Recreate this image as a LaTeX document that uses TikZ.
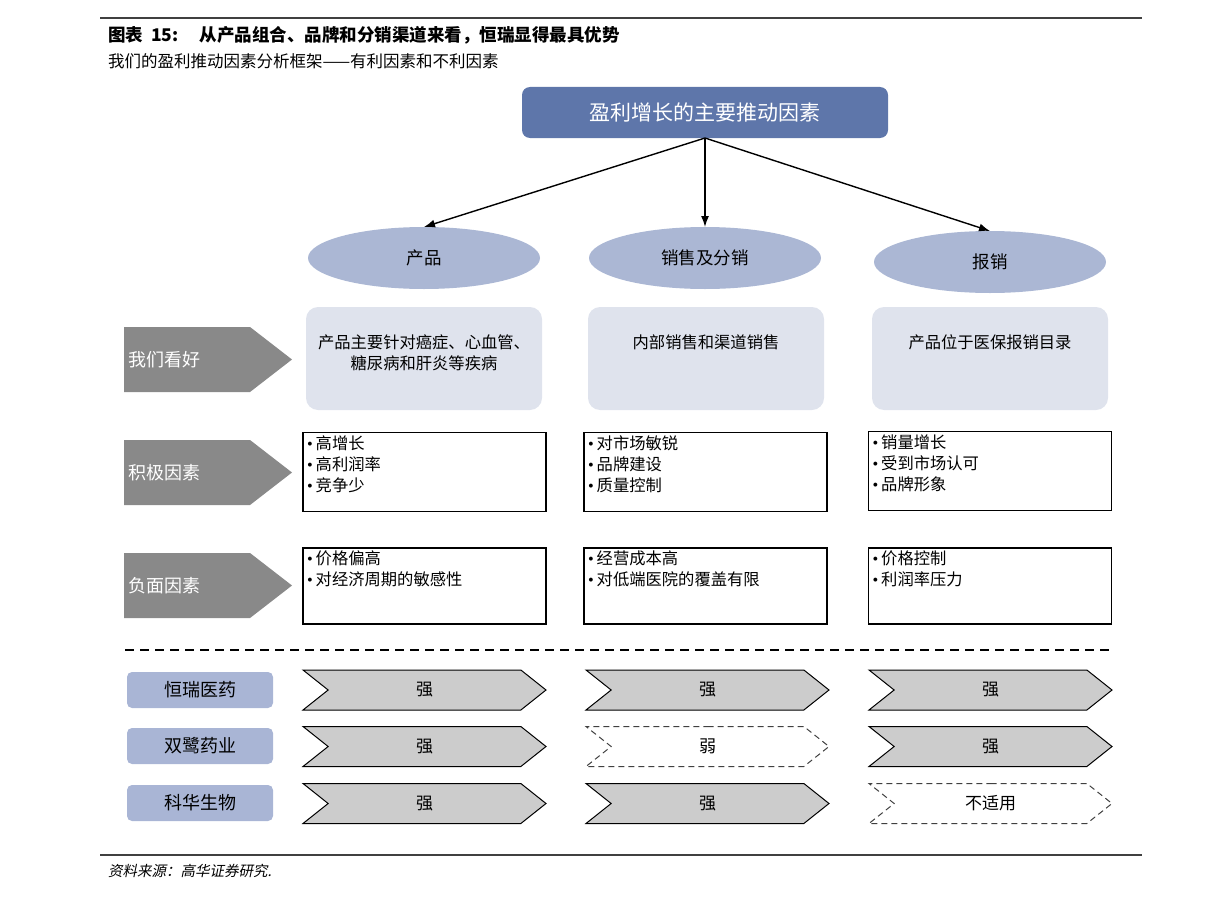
\documentclass[tikz,border=0pt]{standalone}
\usepackage{fontspec}
\setmainfont{Noto Sans CJK SC}
\newfontfamily\slantcjk{Noto Sans CJK SC}[FakeSlant=0.2]
\newfontfamily\dotfont{Liberation Serif}
\usetikzlibrary{arrows.meta,shapes.geometric,shapes.symbols}
\definecolor{rootblue}{RGB}{94,118,170}
\definecolor{ovalblue}{RGB}{171,183,212}
\definecolor{paleblue}{RGB}{223,227,237}
\definecolor{firmblue}{RGB}{169,181,213}
\definecolor{taggray}{RGB}{137,137,137}
\definecolor{chevgray}{RGB}{204,204,204}
\newcommand\fsz[2]{\fontsize{#1}{#2}\selectfont}
\newcommand\bul{{\dotfont •}\hspace{3pt}}

\begin{document}
\begin{tikzpicture}[x=1pt,y=-1pt,
    every node/.style={inner sep=0pt,outer sep=0pt},
    oval/.style={ellipse,fill=ovalblue,minimum width=232,minimum height=62,font=\fsz{17.5}{21}},
    palebox/.style={rounded corners=12,fill=paleblue,minimum width=236,minimum height=103},
    listbox/.style={draw,line width=1.6,minimum width=243,minimum height=79},
    listtext/.style={anchor=north west,align=left,font=\fsz{16.3}{21}},
    tagarrow/.style={signal,signal to=east,signal pointer angle=75.5,fill=taggray,minimum width=168,minimum height=65,anchor=west},
    tagtext/.style={anchor=west,text=white,font=\fsz{18}{21}},
    firm/.style={rounded corners=5,fill=firmblue,minimum width=146,minimum height=36,font=\fsz{18}{21}},
    strong/.style={signal,signal to=east,signal from=west,signal pointer angle=77,draw,line width=1,fill=chevgray,minimum width=243,minimum height=40,font=\fsz{17}{21}},
    weak/.style={strong,fill=none,draw=black!75,dashed,dash pattern=on 6 off 4},
    link/.style={-{Latex[length=11,width=8]},line width=1.4}]
    \useasboundingbox (0,0) rectangle (1224,899);

    \coordinate (rtl) at (100,18);
    \coordinate (rtr) at (1142,18);
    \coordinate (rbl) at (100,855);
    \coordinate (rbr) at (1142,855);
    \draw[line width=1.2,black!75] (rtl) -- (rtr);
    \draw[line width=1.2,black!75] (rbl) -- (rbr);

    \node[anchor=base west,font=\fsz{17.5}{21}\bfseries] (title) at (108,42) {图表\ \ 15:\quad\ 从产品组合、品牌和分销渠道来看，恒瑞显得最具优势};
    \node[anchor=base west,font=\fsz{16.5}{21}] (subtitle) at (108,67) {我们的盈利推动因素分析框架——有利因素和不利因素};
    \node[anchor=base west,font=\fsz{14.5}{17}\slantcjk] (source) at (108,876) {资料来源：高华证券研究.};

    \node[fill=rootblue,rounded corners=8,minimum width=366,minimum height=51,text=white,font=\fsz{21}{25}] (root) at (705,112.5) {盈利增长的主要推动因素};

    \node[oval] (prod) at (424,258) {产品};
    \node[oval] (sale) at (705,258) {销售及分销};
    \node[oval] (reimb) at (990,262) {报销};

    \draw[link] (root.south) -- (prod.north);
    \draw[link] (root.south) -- (sale.north);
    \draw[link] (root.south) -- (reimb.north);

    \node[tagarrow] (like) at (124,359.5) {};
    \node[tagtext] (liket) at ([xshift=4]like.west) {我们看好};
    \node[tagarrow] (plus) at (124,472.5) {};
    \node[tagtext] (plust) at ([xshift=4]plus.west) {积极因素};
    \node[tagarrow] (minus) at (124,585.5) {};
    \node[tagtext] (minust) at ([xshift=4]minus.west) {负面因素};

    \node[palebox] (good1) at (424,358.5) {};
    \node[palebox] (good2) at (706,358.5) {};
    \node[palebox] (good3) at (990,358.5) {};
    \node[anchor=north,align=center,font=\fsz{16.3}{21}] (good1t) at (424,335) {产品主要针对癌症、心血管、\\糖尿病和肝炎等疾病};
    \node[anchor=north,align=center,font=\fsz{16.3}{21}] (good2t) at (706,335) {内部销售和渠道销售};
    \node[anchor=north,align=center,font=\fsz{16.3}{21}] (good3t) at (990,335) {产品位于医保报销目录};

    \node[listbox] (pos1) at (424.5,472) {};
    \node[listbox] (pos2) at (705.5,472) {};
    \node[listbox] (pos3) at (990,471) {};
    \node[listtext] (pos1t) at ([shift={(4,3)}]pos1.north west) {\bul 高增长\\\bul 高利润率\\\bul 竞争少};
    \node[listtext] (pos2t) at ([shift={(4,3)}]pos2.north west) {\bul 对市场敏锐\\\bul 品牌建设\\\bul 质量控制};
    \node[listtext] (pos3t) at ([shift={(4,3)}]pos3.north west) {\bul 销量增长\\\bul 受到市场认可\\\bul 品牌形象};

    \node[listbox,minimum height=76] (neg1) at (424.5,586) {};
    \node[listbox,minimum height=76] (neg2) at (705.5,586) {};
    \node[listbox,minimum height=76] (neg3) at (990,586) {};
    \node[listtext] (neg1t) at ([shift={(4,3)}]neg1.north west) {\bul 价格偏高\\\bul 对经济周期的敏感性};
    \node[listtext] (neg2t) at ([shift={(4,3)}]neg2.north west) {\bul 经营成本高\\\bul 对低端医院的覆盖有限};
    \node[listtext] (neg3t) at ([shift={(4,3)}]neg3.north west) {\bul 价格控制\\\bul 利润率压力};

    \coordinate (cutl) at (125,650);
    \coordinate (cutr) at (1113,650);
    \draw[line width=1.8,dash pattern=on 9 off 6] (cutl) -- (cutr);

    \node[firm] (hengrui) at (200,690) {恒瑞医药};
    \node[firm] (shuanglu) at (200,746) {双鹭药业};
    \node[firm] (kehua) at (200,803) {科华生物};

    \node[strong] (hr1) at (424.5,690) {强};
    \node[strong] (hr2) at (707.5,690) {强};
    \node[strong] (hr3) at (990.5,690) {强};
    \node[strong] (sl1) at (424.5,746.5) {强};
    \node[weak] (sl2) at (707.5,746.5) {弱};
    \node[strong] (sl3) at (990.5,746.5) {强};
    \node[strong] (kh1) at (424.5,803.5) {强};
    \node[strong] (kh2) at (707.5,803.5) {强};
    \node[weak] (kh3) at (990.5,803.5) {不适用};
\end{tikzpicture}
\end{document}
